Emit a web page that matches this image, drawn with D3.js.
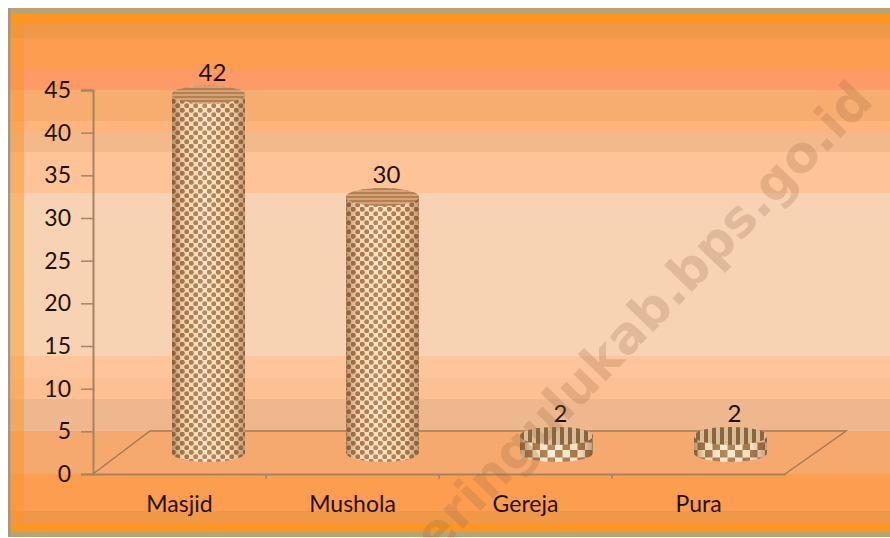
<!DOCTYPE html>
<html>
<head>
<meta charset="utf-8">
<script src="https://cdn.jsdelivr.net/npm/d3@7"></script>
<style>
  html, body { margin: 0; padding: 0; background: #fff; }
  svg { display: block; }
  text { font-family: Lato, "Open Sans", sans-serif; }
</style>
</head>
<body>
<svg id="chart" width="890" height="538"></svg>
<script>
const categories = ["Masjid", "Mushola", "Gereja", "Pura"];
const values = [42, 30, 2, 2];
const yTicks = [0, 5, 10, 15, 20, 25, 30, 35, 40, 45];

// background strips of the chart area: [top, bottom, colour]
const bands = [
  [8, 13, "#b9a273"], [13, 24, "#fb9524"], [24, 38, "#ee9848"], [38, 70, "#fd9d50"],
  [70, 90, "#fe9a68"], [90, 121, "#f8ad70"], [121, 132, "#fdb57c"], [132, 152, "#f3b98b"],
  [152, 193, "#fec497"], [193, 356, "#f7d3b3"], [356, 378, "#fcc59b"], [378, 399, "#fdc093"],
  [399, 431, "#eeb78e"], [431, 474, "#f5a96e"], [474, 511, "#fd9d50"], [511, 524, "#ee9848"],
  [524, 532, "#fb9524"], [532, 537, "#b9a273"]
];

const width = 890;
const margin = { top: 90, right: 105, bottom: 64, left: 93 };
const baseY = 474;
const depthX = 57, depthY = 43; // floor depth
const offX = depthX / 2, offY = 21;
const rx = 36.5, ry = 9;

const svg = d3.select("#chart");

const xScale = d3.scaleBand()
  .domain(categories)
  .range([margin.left, width - margin.right]);

// cylinders stand on the floor, slightly wider spaced than the axis labels
const cylScale = d3.scaleBand()
  .domain(categories)
  .range([margin.left, width - margin.right + 4]);

const yScale = d3.scaleLinear()
  .domain([0, 45])
  .range([baseY, margin.top]);

const defs = svg.append("defs");

function dots(id, size, r, dark, light) {
  const p = defs.append("pattern")
    .attr("id", id)
    .attr("patternUnits", "userSpaceOnUse")
    .attr("width", size)
    .attr("height", size);
  p.append("rect").attr("width", size).attr("height", size).attr("fill", light);
  p.append("circle").attr("cx", size / 4).attr("cy", size / 4).attr("r", r).attr("fill", dark);
  p.append("circle").attr("cx", size * 3 / 4).attr("cy", size * 3 / 4).attr("r", r).attr("fill", dark);
}
dots("bodyFine", 9, 2.5, "#b37a4c", "#fde6c3");

function checker(id, size, dark, light) {
  const p = defs.append("pattern")
    .attr("id", id)
    .attr("patternUnits", "userSpaceOnUse")
    .attr("width", size)
    .attr("height", size);
  p.append("rect").attr("width", size).attr("height", size).attr("fill", light);
  p.append("rect").attr("width", size / 2).attr("height", size / 2).attr("fill", dark);
  p.append("rect").attr("x", size / 2).attr("y", size / 2)
    .attr("width", size / 2).attr("height", size / 2).attr("fill", dark);
}
checker("bodyCoarse", 15, "#ab7a4b", "#fdeccd");

function stripes(id, w, h, dark, light, horizontal) {
  const p = defs.append("pattern")
    .attr("id", id)
    .attr("patternUnits", "userSpaceOnUse")
    .attr("width", w)
    .attr("height", h);
  p.append("rect").attr("width", w).attr("height", h).attr("fill", light);
  p.append("rect")
    .attr("width", horizontal ? w : w / 2)
    .attr("height", horizontal ? h / 2 : h)
    .attr("fill", dark);
}
stripes("topFine", 4, 4, "#b5804f", "#d4a277", true);
stripes("topCoarse", 8, 8, "#8a6540", "#dcbd98", false);

const shade = defs.append("linearGradient").attr("id", "shade");
[[0, "#6b3d18", 0.5], [0.15, "#6b3d18", 0.1], [0.45, "#fff", 0.12],
 [0.8, "#6b3d18", 0.06], [1, "#6b3d18", 0.45]].forEach(s => {
  shade.append("stop")
    .attr("offset", s[0])
    .attr("stop-color", s[1])
    .attr("stop-opacity", s[2]);
});

defs.append("filter").attr("id", "soft")
  .append("feGaussianBlur").attr("stdDeviation", 0.6);

// Background
svg.append("g").selectAll("rect")
  .data(bands)
  .enter()
  .append("rect")
  .attr("x", 8)
  .attr("width", width - 8)
  .attr("y", d => d[0])
  .attr("height", d => d[1] - d[0])
  .attr("fill", d => d[2]);

svg.append("rect").attr("x", 8).attr("y", 8).attr("width", 2.5).attr("height", 529).attr("fill", "#a8977a");
svg.append("rect").attr("x", 11).attr("y", 13).attr("width", 13).attr("height", 519)
  .attr("fill", "#fb9524").attr("opacity", 0.45);

// Floor
const x0 = margin.left, x1 = width - margin.right;
svg.append("path")
  .attr("d", `M${x0},${baseY}L${x0 + depthX},${baseY - depthY}H${x1 + 61}L${x1},${baseY}`)
  .attr("fill", "none")
  .attr("stroke", "#a9794d")
  .attr("stroke-width", 1.5);

// Axes
const yAxis = svg.append("g")
  .attr("transform", `translate(${margin.left},0)`)
  .call(d3.axisLeft(yScale).tickValues(yTicks).tickSize(12).tickPadding(10));

const xAxis = svg.append("g")
  .attr("transform", `translate(0,${baseY})`)
  .call(d3.axisBottom(xScale).tickSize(0).tickPadding(22));

[yAxis, xAxis].forEach(axis => {
  axis.selectAll("path").attr("stroke", "#a5835f").attr("stroke-width", 2);
  axis.selectAll("line").attr("stroke", "#a5835f").attr("stroke-width", 1.5);
  axis.selectAll("text")
    .attr("fill", "#1f1007")
    .style("font-size", "23px")
    .style("font-family", "Lato, sans-serif");
});

svg.append("g").selectAll("line")
  .data(categories.slice(1))
  .enter()
  .append("line")
  .attr("x1", d => xScale(d))
  .attr("x2", d => xScale(d))
  .attr("y1", baseY)
  .attr("y2", baseY + 5)
  .attr("stroke", "#a5835f")
  .attr("stroke-width", 1.5);

// Cylinders
const cx = d => cylScale(d.cat) + cylScale.bandwidth() / 2 + offX;
const topY = d => yScale(d.val) - offY;
const data = categories.map((cat, i) => ({ cat, val: values[i] }));
const bodyPath = d => {
  const b = baseY - offY;
  return `M${cx(d) - rx},${topY(d)}V${b}A${rx},${ry} 0 0 0 ${cx(d) + rx},${b}V${topY(d)}` +
    `A${rx},${ry} 0 0 0 ${cx(d) - rx},${topY(d)}Z`;
};

const cyl = svg.append("g")
  .attr("filter", "url(#soft)")
  .selectAll("g")
  .data(data)
  .enter()
  .append("g");

cyl.append("path")
  .attr("d", bodyPath)
  .attr("fill", d => d.val > 5 ? "url(#bodyFine)" : "url(#bodyCoarse)");

cyl.append("path")
  .attr("d", bodyPath)
  .attr("fill", "url(#shade)");

cyl.append("ellipse")
  .attr("cx", cx)
  .attr("cy", topY)
  .attr("rx", rx)
  .attr("ry", ry)
  .attr("fill", d => d.val > 5 ? "url(#topFine)" : "url(#topCoarse)");

// Value labels
svg.append("g").selectAll("text")
  .data(data)
  .enter()
  .append("text")
  .attr("x", d => cx(d) + 4)
  .attr("y", d => topY(d) - 14)
  .attr("text-anchor", "middle")
  .attr("fill", "#1f1007")
  .style("font-size", "24px")
  .text(d => d.val);

// Watermark
svg.append("text")
  .attr("transform", "translate(436,557) rotate(-46)")
  .attr("fill", "#9a6a44")
  .attr("opacity", 0.24)
  .style("font-family", "'DejaVu Sans', sans-serif")
  .style("font-weight", "bold")
  .style("font-size", "51px")
  .text("eringulukab.bps.go.id");
</script>
</body>
</html>
